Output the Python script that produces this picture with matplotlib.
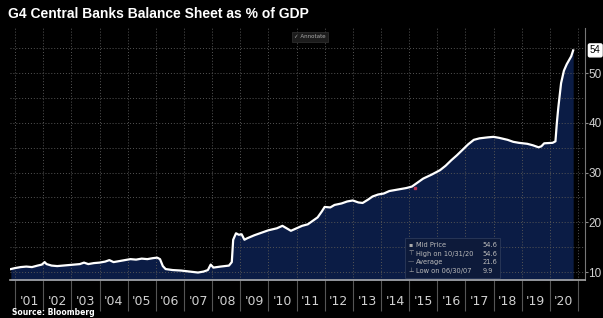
import numpy as np
import matplotlib.pyplot as plt
from matplotlib.patches import Rectangle

# G4 central bank balance sheets, % of GDP
years = [2000.85, 2001.0, 2001.2, 2001.4, 2001.6, 2001.8, 2001.95, 2002.05, 2002.12,
         2002.3, 2002.5, 2002.7, 2002.9, 2003.1, 2003.3, 2003.45, 2003.6, 2003.8,
         2004.0, 2004.2, 2004.35, 2004.5, 2004.7, 2004.9, 2005.1, 2005.3, 2005.5,
         2005.7, 2005.9, 2006.05, 2006.15, 2006.25, 2006.35, 2006.6, 2006.9, 2007.2,
         2007.5, 2007.7, 2007.85, 2007.95, 2008.05, 2008.3, 2008.6, 2008.7, 2008.75,
         2008.85, 2008.95, 2009.05, 2009.15, 2009.25, 2009.5, 2009.75, 2010.0, 2010.3,
         2010.5, 2010.65, 2010.8, 2011.0, 2011.2, 2011.4, 2011.6, 2011.75, 2011.9,
         2012.0, 2012.2, 2012.35, 2012.6, 2012.8, 2013.0, 2013.2, 2013.35, 2013.55,
         2013.7, 2013.9, 2014.1, 2014.3, 2014.5, 2014.7, 2014.9, 2015.1, 2015.3,
         2015.5, 2015.8, 2016.1, 2016.3, 2016.5, 2016.7, 2016.9, 2017.1, 2017.3,
         2017.5, 2017.8, 2018.0, 2018.2, 2018.5, 2018.7, 2018.9, 2019.2, 2019.4,
         2019.6, 2019.7, 2019.8, 2020.1, 2020.2, 2020.25, 2020.3, 2020.35, 2020.4,
         2020.5, 2020.6, 2020.7, 2020.76, 2020.83]
values = [10.6, 10.8, 11.0, 11.1, 11.0, 11.3, 11.5, 12.0, 11.6,
          11.3, 11.2, 11.3, 11.4, 11.5, 11.6, 11.9, 11.6, 11.8,
          11.9, 12.1, 12.4, 12.0, 12.2, 12.4, 12.6, 12.5, 12.7,
          12.6, 12.8, 12.9, 12.6, 11.2, 10.6, 10.4, 10.3, 10.1,
          9.9, 10.1, 10.4, 11.5, 10.9, 11.1, 11.3, 12.0, 16.5,
          17.8, 17.5, 17.6, 16.5, 16.8, 17.4, 17.9, 18.4, 18.8,
          19.3, 18.8, 18.3, 18.8, 19.3, 19.6, 20.4, 21.0, 22.2,
          23.1, 23.0, 23.5, 23.8, 24.2, 24.4, 24.0, 23.9, 24.6,
          25.2, 25.6, 25.8, 26.3, 26.5, 26.7, 26.9, 27.2, 28.0,
          28.8, 29.6, 30.5, 31.4, 32.5, 33.5, 34.6, 35.7, 36.6,
          36.9, 37.1, 37.2, 37.0, 36.6, 36.2, 36.0, 35.8, 35.5,
          35.1, 35.3, 35.9, 36.0, 36.3, 40.0, 43.0, 45.5, 48.0,
          50.5, 51.8, 52.8, 53.4, 54.6]

year_labels = ["'%02d" % (y % 100) for y in range(2001, 2021)]
stat_names = ["Mid Price", "High on 10/31/20", "Average", "Low on 06/30/07"]
stat_values = ["54.6", "54.6", "21.6", "9.9"]
stat_icons = ["\u25aa", "\u22a4", "\u2014", "\u22a5"]
last_value = 54.6

fig = plt.figure(figsize=(6.03, 3.18), dpi=100, facecolor="black")
ax = fig.add_axes([10 / 603, 1 - 280 / 318, 575 / 603, 252 / 318])
ax.set_facecolor("black")

ax.fill_between(years, 0, values, color="#0b1c45", zorder=1, lw=0)
ax.plot(years, values, color="white", lw=1.6, zorder=3)
ax.plot([2015.2], [26.9], marker="s", ms=2, color="#b03050", zorder=4, lw=0)

ax.set_xlim(2000.82, 2021.25)
ax.set_ylim(8.4, 59.1)

# x axis: labels mid-year, separators at year boundaries
ax.set_xticks([y + 0.5 for y in range(2001, 2021)])
ax.set_xticklabels(year_labels)
ax.set_xticks(range(2001, 2022), minor=True)
ax.tick_params(axis="x", which="major", length=0, pad=11, labelsize=9, labelcolor="#d0d0d0")
ax.tick_params(axis="x", which="minor", length=22, width=0.8, color="#555555", direction="out")

ax.yaxis.tick_right()
ax.set_yticks([10, 20, 30, 40, 50])
ax.set_yticks([15, 25, 35, 45, 55], minor=True)
ax.tick_params(axis="y", which="major", length=2, color="#888888", labelsize=8.5,
               labelcolor="#d0d0d0", pad=0.5)
ax.tick_params(axis="y", which="minor", length=0)
for lbl in ax.get_yticklabels():
    lbl.set_family("Liberation Sans")

ax.xaxis.grid(True, which="minor", ls=(0, (1, 2)), color="#555555", lw=0.7)
ax.yaxis.grid(True, which="both", ls=(0, (1, 2)), color="#555555", lw=0.7)

for s in ["top", "left"]:
    ax.spines[s].set_visible(False)
ax.spines["bottom"].set_color("#aaaaaa")
ax.spines["bottom"].set_linewidth(1.2)
ax.spines["right"].set_color("#777777")

# last value tag
ax.annotate("54", xy=(1.0, last_value), xycoords=("axes fraction", "data"),
            xytext=(3.5, 0), textcoords="offset points", va="center", ha="left",
            fontsize=7, color="black", family="Liberation Sans",
            bbox=dict(boxstyle="round,pad=0.15", fc="white", ec="white"))

# stats box
ax.add_patch(Rectangle((0.687, 0.008), 0.165, 0.16, transform=ax.transAxes,
                       fc="#0d1a3a", ec="#2c3a5a", lw=0.6, zorder=5))
rows_y = [0.139, 0.105, 0.071, 0.037]
for icon, name, val, yy in zip(stat_icons, stat_names, stat_values, rows_y):
    ax.text(0.697, yy, icon, transform=ax.transAxes, fontsize=4.5, color="#aaaaaa",
            va="center", ha="center", zorder=6)
    ax.text(0.706, yy, name, transform=ax.transAxes, fontsize=4.8, color="#bbbbbb",
            va="center", ha="left", zorder=6)
    ax.text(0.822, yy, val, transform=ax.transAxes, fontsize=4.8, color="#bbbbbb",
            va="center", ha="left", zorder=6)

fig.text(0.013, 0.955, "G4 Central Banks Balance Sheet as % of GDP", color="white",
         fontsize=10, fontweight="bold", va="center", ha="left", family="Liberation Sans")
fig.text(0.514, 0.884, "\u2713 Annotate", color="#aaaaaa", fontsize=4, va="center", ha="center",
         bbox=dict(boxstyle="square,pad=0.4", fc="#1c1c1c", ec="#333333", lw=0.5))
fig.text(0.02, 0.016, "Source: Bloomberg", color="white", fontsize=5.5, fontweight="bold",
         va="center", ha="left")

fig.savefig("out.png", dpi=100, facecolor="black")
